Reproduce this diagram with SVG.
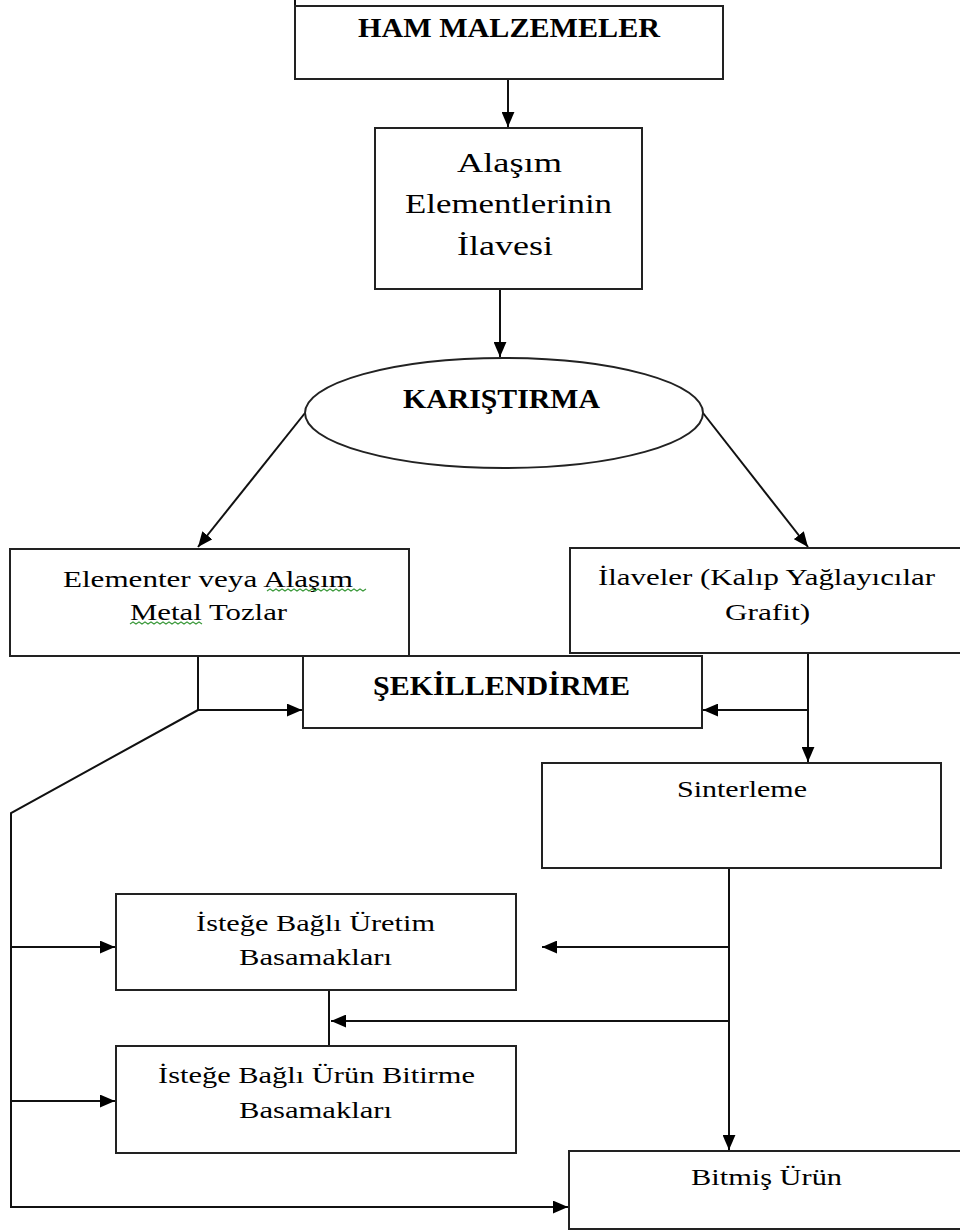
<svg xmlns="http://www.w3.org/2000/svg" width="960" height="1231" viewBox="0 0 960 1231">
<style>
.box{fill:#fff;stroke:#222;stroke-width:2}
.ln{fill:none;stroke:#111;stroke-width:2}
.t{font-family:"Liberation Serif","Times New Roman",serif;fill:#000;text-anchor:middle}
.b{font-weight:bold}
.sq{fill:none;stroke:#3c9a3c;stroke-width:1.2}
</style>
<defs>
<marker id="ah" viewBox="0 0 14 12" refX="14" refY="6" markerWidth="15" markerHeight="13" markerUnits="userSpaceOnUse" orient="auto">
<path d="M0,0 L14,6 L0,12 Z" fill="#000"/>
</marker>
</defs>
<rect width="960" height="1231" fill="#fff"/>
<g id="connectors">
<line class="ln" x1="508" y1="79" x2="508" y2="127" marker-end="url(#ah)"/>
<line class="ln" x1="500" y1="289" x2="500" y2="357" marker-end="url(#ah)"/>
<line class="ln" x1="305" y1="413" x2="198" y2="547" marker-end="url(#ah)"/>
<line class="ln" x1="703" y1="413" x2="808" y2="547" marker-end="url(#ah)"/>
<polyline class="ln" points="198,656 198,710 302,710" marker-end="url(#ah)"/>
<polyline class="ln" points="198,710 11,813 11,1207 568,1207" marker-end="url(#ah)"/>
<line class="ln" x1="11" y1="947" x2="115" y2="947" marker-end="url(#ah)"/>
<line class="ln" x1="11" y1="1101" x2="115" y2="1101" marker-end="url(#ah)"/>
<line class="ln" x1="808" y1="653" x2="808" y2="762" marker-end="url(#ah)"/>
<line class="ln" x1="808" y1="710" x2="703" y2="710" marker-end="url(#ah)"/>
<line class="ln" x1="729" y1="868" x2="729" y2="1150" marker-end="url(#ah)"/>
<line class="ln" x1="729" y1="947" x2="542" y2="947" marker-end="url(#ah)"/>
<line class="ln" x1="729" y1="1021" x2="331" y2="1021" marker-end="url(#ah)"/>
<line class="ln" x1="329" y1="990" x2="329" y2="1046"/>
</g>
<g id="ham">
<line class="ln" x1="295" y1="0" x2="295" y2="6"/>
<rect class="box" x="295" y="6" width="428" height="73"/>
<text class="t b" transform="translate(509,37) scale(1.11,1)" font-size="27" textLength="272" lengthAdjust="spacingAndGlyphs">HAM MALZEMELER</text>
</g>
<g id="alasim">
<rect class="box" x="375" y="128" width="267" height="161"/>
<text class="t" transform="translate(509.5,172) scale(1.27,1)" font-size="28" textLength="82.7" lengthAdjust="spacingAndGlyphs">Alaşım</text>
<text class="t" transform="translate(508.5,213) scale(1.27,1)" font-size="28" textLength="163" lengthAdjust="spacingAndGlyphs">Elementlerinin</text>
<text class="t" transform="translate(505,255) scale(1.27,1)" font-size="28" textLength="75.6" lengthAdjust="spacingAndGlyphs">İlavesi</text>
</g>
<g id="karistirma">
<ellipse class="box" cx="504" cy="413" rx="199" ry="55"/>
<text class="t b" transform="translate(501.5,408) scale(1.1,1)" font-size="27" textLength="179" lengthAdjust="spacingAndGlyphs">KARIŞTIRMA</text>
</g>
<g id="elementer">
<rect class="box" x="10" y="549" width="399" height="107"/>
<text class="t" transform="translate(208,587) scale(1.28,1)" font-size="24" textLength="226.6" lengthAdjust="spacingAndGlyphs">Elementer veya Alaşım</text>
<text class="t" transform="translate(208.5,620) scale(1.28,1)" font-size="24" textLength="122.7" lengthAdjust="spacingAndGlyphs">Metal Tozlar</text>
<path class="sq" d="M267,591 l3,-2 l3,2 l3,-2 l3,2 l3,-2 l3,2 l3,-2 l3,2 l3,-2 l3,2 l3,-2 l3,2 l3,-2 l3,2 l3,-2 l3,2 l3,-2 l3,2 l3,-2 l3,2 l3,-2 l3,2 l3,-2 l3,2 l3,-2 l3,2 l3,-2 l3,2 l3,-2 l3,2 l3,-2 l3,2 l3,-2"/>
<path class="sq" d="M130,624 l3,-2 l3,2 l3,-2 l3,2 l3,-2 l3,2 l3,-2 l3,2 l3,-2 l3,2 l3,-2 l3,2 l3,-2 l3,2 l3,-2 l3,2 l3,-2 l3,2 l3,-2 l3,2 l3,-2 l3,2 l3,-2 l3,2"/>
</g>
<g id="sekillendirme">
<rect class="box" x="303" y="656" width="399" height="72"/>
<text class="t b" transform="translate(501.5,695) scale(1.11,1)" font-size="27" textLength="231.5" lengthAdjust="spacingAndGlyphs">ŞEKİLLENDİRME</text>
</g>
<g id="ilaveler">
<rect class="box" x="570" y="548" width="400" height="105"/>
<text class="t" transform="translate(766.5,585) scale(1.27,1)" font-size="24" textLength="265.4" lengthAdjust="spacingAndGlyphs">İlaveler (Kalıp Yağlayıcılar</text>
<text class="t" transform="translate(767.5,620) scale(1.27,1)" font-size="24" textLength="67" lengthAdjust="spacingAndGlyphs">Grafit)</text>
</g>
<g id="sinterleme">
<rect class="box" x="542" y="763" width="399" height="105"/>
<text class="t" transform="translate(742,797) scale(1.26,1)" font-size="24" textLength="103.2" lengthAdjust="spacingAndGlyphs">Sinterleme</text>
</g>
<g id="uretim">
<rect class="box" x="116" y="894" width="400" height="96"/>
<text class="t" transform="translate(315.5,931) scale(1.32,1)" font-size="23" textLength="181" lengthAdjust="spacingAndGlyphs">İsteğe Bağlı Üretim</text>
<text class="t" transform="translate(315.5,965) scale(1.32,1)" font-size="23" textLength="116" lengthAdjust="spacingAndGlyphs">Basamakları</text>
</g>
<g id="bitirme">
<rect class="box" x="116" y="1046" width="400" height="107"/>
<text class="t" transform="translate(316.5,1083) scale(1.32,1)" font-size="23" textLength="240" lengthAdjust="spacingAndGlyphs">İsteğe Bağlı Ürün Bitirme</text>
<text class="t" transform="translate(315.5,1118) scale(1.32,1)" font-size="23" textLength="116" lengthAdjust="spacingAndGlyphs">Basamakları</text>
</g>
<g id="bitmis">
<rect class="box" x="569" y="1151" width="400" height="78"/>
<text class="t" transform="translate(766.5,1185) scale(1.32,1)" font-size="23" textLength="114.4" lengthAdjust="spacingAndGlyphs">Bitmiş Ürün</text>
</g>
</svg>
